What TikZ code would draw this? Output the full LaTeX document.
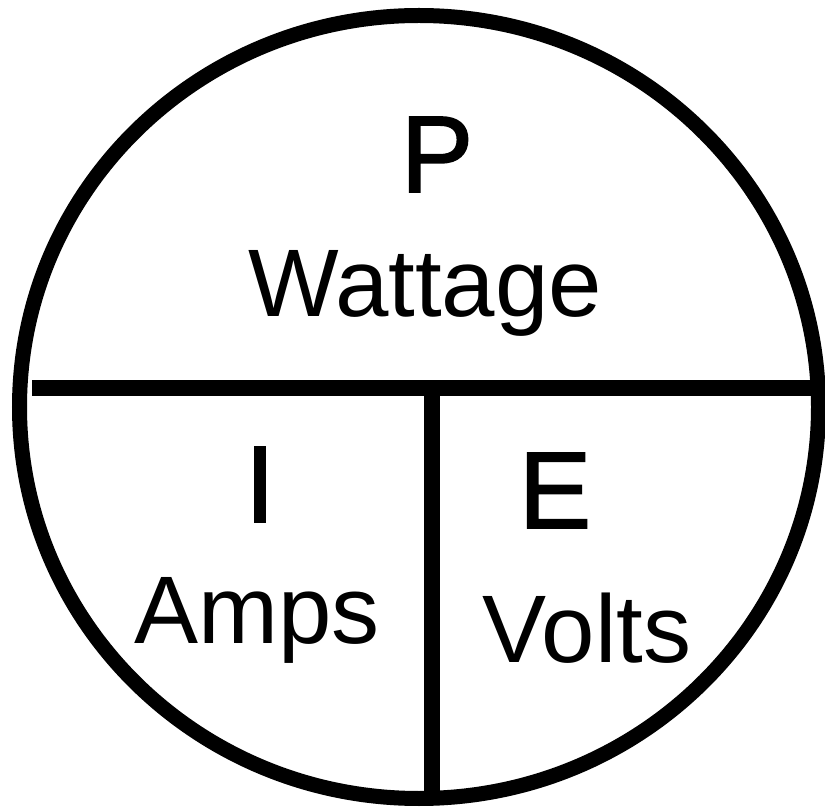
\documentclass[tikz,border=0pt]{standalone}
\usepackage{fontspec}
\setmainfont{Liberation Sans}
\newfontfamily\symfont{Liberation Sans}[FakeBold=1.5]
\usetikzlibrary{positioning}

\begin{document}
\begin{tikzpicture}[
            x=0.5pt, y=-0.5pt,
            symbol/.style={anchor=base, inner sep=0pt, font=\symfont\fontsize{54.5}{54.5}\selectfont},
            unitword/.style={anchor=base, inner sep=0pt, font=\fontsize{48}{48}\selectfont},
            bar/.style={line width=8pt, line cap=butt}
        ]
            \useasboundingbox (0,0) rectangle (825,807);
            \draw[line width=7.5pt] (419,407) ellipse [x radius=399.5, y radius=391.5];

            \coordinate (left) at (32,388);
            \coordinate (right) at (820,388);
            \coordinate (top) at (432,396);
            \coordinate (bottom) at (432,798);
            \draw[bar] (left) -- (right);
            \draw[bar] (top) -- (bottom);

            \node[symbol] (p) at (437,192) {P};
            \node[unitword] (watt) at (425,317) {Wattage};
            \node[symbol] (i) at (260,522) {I};
            \node[unitword] (amps) at (257,643) {Amps};
            \node[symbol] (e) at (555,528) {E};
            \node[unitword] (volts) at (587,662) {Volts};
        \end{tikzpicture}
\end{document}
